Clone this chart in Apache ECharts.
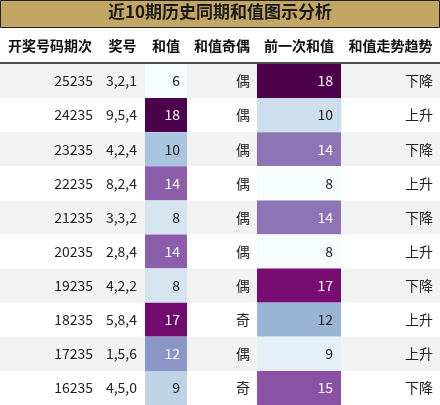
<!DOCTYPE html>
<html>
<head>
<meta charset="utf-8">
<script src="https://cdn.jsdelivr.net/npm/echarts@6/dist/echarts.min.js"></script>
<style>html,body{margin:0;padding:0;background:#fff}#c{width:440px;height:405px}</style>
</head>
<body>
<div id="c"></div>
<script>
// table data
const periods = ['25235', '24235', '23235', '22235', '21235', '20235', '19235', '18235', '17235', '16235'];
const draws = ['3,2,1', '9,5,4', '4,2,4', '8,2,4', '3,3,2', '2,8,4', '4,2,2', '5,8,4', '1,5,6', '4,5,0'];
const sums = [6, 18, 10, 14, 8, 14, 8, 17, 12, 9];
const parity = ['偶', '偶', '偶', '偶', '偶', '偶', '偶', '奇', '偶', '奇'];
const prevSums = [18, 10, 14, 8, 14, 8, 17, 12, 9, 15];
const trend = ['下降', '上升', '下降', '上升', '下降', '上升', '下降', '上升', '上升', '下降'];
const headers = ['开奖号码期次', '奖号', '和值', '和值奇偶', '前一次和值', '和值走势趋势'];
const title = '近10期历史同期和值图示分析';

// layout
const colEdges = [0, 100, 145, 187, 257, 341, 440];
const FONT = '"Noto Sans CJK SC", "Liberation Sans", sans-serif';
const BUPU = ['#f7fcfd', '#e0ecf4', '#bfd3e6', '#9ebcda', '#8c96c6', '#8c6bb1', '#88419d', '#810f7c', '#4d004b'];

const chart = echarts.init(document.getElementById('c'));

function colorFor(v, arr) {
    const lo = Math.min(...arr), hi = Math.max(...arr);
    const t = (v - lo) / (hi - lo) * (BUPU.length - 1);
    const i = Math.min(Math.floor(t), BUPU.length - 2), f = t - i;
    const a = echarts.color.parse(BUPU[i]), b = echarts.color.parse(BUPU[i + 1]);
    const c = [0, 1, 2].map(k => Math.round(a[k] + (b[k] - a[k]) * f));
    return {fill: 'rgb(' + c.join(',') + ')', light: (v - lo) / (hi - lo) >= 0.5};
}

const rows = periods.map((p, i) => [i]);

function renderRow(params, api) {
    const i = api.value(0);
    const yTop = api.coord([0, i])[1] - api.size([0, 1])[1] / 2;
    const h = api.size([0, 1])[1];
    const x = k => api.coord([colEdges[k], i])[0];
    const mid = yTop + h / 2;
    const children = [{
        type: 'rect', shape: {x: x(0), y: yTop, width: x(6) - x(0), height: h},
        style: {fill: i % 2 === 0 ? '#f2f2f2' : '#ffffff'}
    }];
    const s = colorFor(sums[i], sums), p = colorFor(prevSums[i], prevSums);
    children.push({type: 'rect', shape: {x: x(2), y: yTop, width: x(3) - x(2), height: h}, style: {fill: s.fill}});
    children.push({type: 'rect', shape: {x: x(4), y: yTop, width: x(5) - x(4), height: h}, style: {fill: p.fill}});
    const cells = [periods[i], draws[i], String(sums[i]), parity[i], String(prevSums[i]), trend[i]];
    const colors = ['#222', '#222', s.light ? '#fff' : '#222', '#222', p.light ? '#fff' : '#222', '#222'];
    const pad = [7, 8, 7, 7, 8, 7];
    cells.forEach((t, k) => {
        children.push({
            type: 'text',
            style: {
                text: t, x: x(k + 1) - pad[k], y: mid, align: 'right', verticalAlign: 'middle',
                fill: colors[k], font: '14px ' + FONT
            }
        });
    });
    return {type: 'group', children: children};
}

const graphics = [
    {type: 'rect', left: 0, top: 0, shape: {width: 439, height: 27}, style: {fill: '#c4a664', stroke: '#222', lineWidth: 1}},
    {type: 'text', left: 'center', top: 3, style: {text: title, font: 'bold 17px ' + FONT, fill: '#1a1a1a'}},
    {type: 'line', shape: {x1: 0, y1: 63, x2: 440, y2: 63}, style: {stroke: '#111', lineWidth: 1.5}}
];
headers.forEach((h, k) => {
    graphics.push({
        type: 'text', x: (colEdges[k] + colEdges[k + 1]) / 2, y: 46,
        style: {text: h, align: 'center', verticalAlign: 'middle', font: 'bold 14px ' + FONT, fill: '#111'}
    });
});

chart.setOption({
    animation: false,
    grid: {left: 0, right: 0, top: 64, bottom: 0},
    xAxis: {type: 'value', min: 0, max: 440, show: false},
    yAxis: {type: 'category', data: periods, inverse: true, show: false},
    graphic: graphics,
    series: [{type: 'custom', renderItem: renderRow, data: rows, clip: false}]
});
</script>
</body>
</html>
